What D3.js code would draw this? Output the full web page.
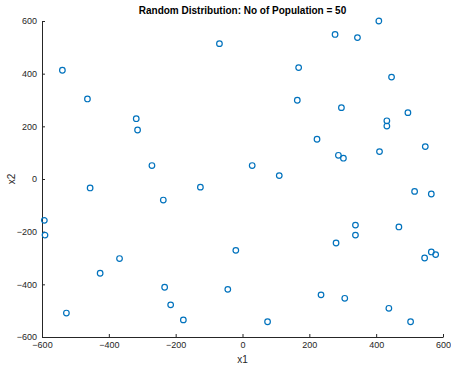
<!DOCTYPE html>
<html>
<head>
<meta charset="utf-8">
<script src="https://cdn.jsdelivr.net/npm/d3@7"></script>
<style>
  body { margin: 0; background: #fff; }
  text { font-family: "Liberation Sans", Arial, sans-serif; }
</style>
</head>
<body>
<div id="chart"></div>
<script>
const x1 = [-539, -464, -318, -314, -271, -69, -456, -126, -237, -593,
            -591, -368, -426, -233, -44, -215, -177, -527, 408, 277,
            344, 168, 446, 164, 296, 495, 432, 432, 223, 547,
            287, 302, 410, 29, 110, 515, 565, 338, 338, 468,
            280, -20, 565, 578, 545, 235, 306, 438, 75, 503]
const x2 = [413, 304, 229, 186, 51, 514, -34, -31, -80, -157,
            -213, -302, -358, -411, -419, -478, -535, -509, 600, 549,
            537, 423, 387, 299, 271, 252, 221, 201, 151, 123,
            90, 79, 104, 51, 13, -47, -57, -175, -213, -182,
            -243, -271, -277, -287, -300, -440, -453, -491, -542, -542]
const tickValues = [-600, -400, -200, 0, 200, 400, 600]
const title = 'Random Distribution: No of Population = 50'

const points = x1.map((d, i) => ({ x: d, y: x2[i] }))

const margin = { top: 21, right: 8, bottom: 32, left: 42 }
const width = 451 - margin.left - margin.right
const height = 369 - margin.top - margin.bottom

const xScale = d3.scaleLinear().domain([-600, 600]).range([0, width])
const yScale = d3.scaleLinear().domain([-600, 600]).range([height, 0])

const svg = d3.select('#chart')
  .append('svg')
  .attr('width', 451)
  .attr('height', 369)

const g = svg.append('g')
  .attr('transform', `translate(${margin.left}, ${margin.top})`)

// Axes, ticks pointing inward like MATLAB.
const xAxis = g.append('g')
  .attr('transform', `translate(0, ${height})`)
  .call(d3.axisBottom(xScale).tickValues(tickValues).tickSizeInner(-3).tickSizeOuter(0).tickPadding(5))

const yAxis = g.append('g')
  .call(d3.axisLeft(yScale).tickValues(tickValues).tickSizeInner(-3).tickSizeOuter(0).tickPadding(5))

;[xAxis, yAxis].forEach(a => {
  a.select('.domain').attr('stroke', '#262626').attr('stroke-width', 1)
  a.selectAll('.tick line').attr('stroke', '#262626')
  a.selectAll('.tick text')
    .attr('fill', '#262626')
    .style('font-size', '9px')
    .style('font-family', '"Liberation Sans", Arial, sans-serif')
})

// Points.
g.selectAll('.pt')
  .data(points)
  .enter()
  .append('circle')
  .attr('class', 'pt')
  .attr('cx', d => xScale(d.x))
  .attr('cy', d => yScale(d.y))
  .attr('r', 2.8)
  .attr('fill', 'none')
  .attr('stroke', '#0072BD')
  .attr('stroke-width', 1.2)

// Labels.
svg.append('text')
  .attr('x', margin.left + width / 2)
  .attr('y', 14)
  .attr('text-anchor', 'middle')
  .style('font-size', '10px')
  .style('font-weight', 'bold')
  .attr('fill', '#000')
  .text(title)

svg.append('text')
  .attr('x', margin.left + width / 2)
  .attr('y', 363)
  .attr('text-anchor', 'middle')
  .style('font-size', '10px')
  .attr('fill', '#262626')
  .text('x1')

svg.append('text')
  .attr('transform', `translate(15, ${margin.top + height / 2}) rotate(-90)`)
  .attr('text-anchor', 'middle')
  .style('font-size', '10px')
  .attr('fill', '#262626')
  .text('x2')
</script>
</body>
</html>
